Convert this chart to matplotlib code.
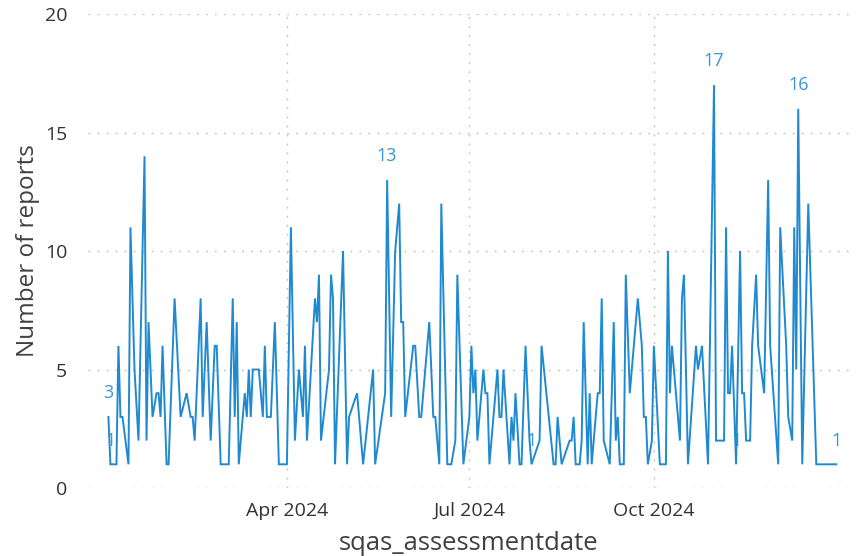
import pandas as pd
import matplotlib
matplotlib.use('Agg')
import matplotlib.pyplot as plt
import matplotlib.dates as mdates

# --- dados (dia do ano a partir de 01/01/2024, nº de relatórios) ---
dias = [2, 3, 6, 7, 8, 9, 12, 13, 15, 17, 20, 21, 22, 24, 26, 27, 28, 29, 31, 32,
        35, 38, 41, 43, 44, 45, 48, 49,
        51, 53, 55, 56, 58, 62, 64, 65, 66, 67, 70, 71, 72, 73, 74, 77, 79, 80, 81,
        83, 85, 87, 91, 93, 95, 97, 99, 100, 101,
        105, 106, 107, 108, 112, 113, 114, 115, 119, 121, 122, 126, 129, 134, 135,
        140, 141, 143, 145, 147, 148, 149, 150,
        154, 155, 157, 158, 162, 164, 165, 167, 168, 171, 173, 175, 176, 179, 182,
        183, 184, 185, 186, 189, 190, 191, 192, 196, 197, 198, 199, 202,
        203, 204, 205, 207, 208, 210, 212, 213, 217, 218, 224, 225, 226, 228, 232,
        233, 234, 235, 237, 238, 239, 241, 242, 243, 246, 247, 248, 249,
        252, 254, 255, 256, 257, 259, 260, 262, 266, 268, 269, 270, 271, 273, 274,
        277, 280, 281, 282, 283, 287, 288, 289, 291, 295, 296, 298, 301,
        304, 305, 309, 310, 311, 312, 313, 315, 317, 318, 319, 320, 322, 323, 325,
        326, 329, 331, 332, 336, 337, 340, 341, 343, 344, 345, 346, 348, 351, 355, 365]
relatorios = [3, 1, 1, 6, 3, 3, 1, 11, 5, 2, 14, 2, 7, 3, 4, 4, 3, 6, 1, 1,
              8, 3, 4, 3, 3, 2, 8, 3,
              7, 2, 6, 6, 1, 1, 8, 3, 7, 1, 4, 3, 5, 3, 5, 5, 3, 6, 3,
              3, 7, 1, 1, 11, 2, 5, 3, 6, 2,
              8, 7, 9, 2, 5, 9, 8, 1, 10, 1, 3, 4, 1, 5, 1,
              4, 13, 3, 10, 12, 7, 7, 3,
              6, 6, 3, 3, 7, 3, 3, 1, 12, 1, 1, 2, 9, 1, 3,
              6, 4, 5, 2, 5, 4, 4, 1, 5, 3, 3, 5, 1,
              3, 2, 4, 1, 1, 6, 2, 1, 2, 6, 1, 1, 3, 1, 2,
              2, 3, 1, 1, 2, 7, 1, 4, 1, 4, 4, 8, 2,
              1, 7, 2, 3, 1, 1, 9, 4, 8, 6, 3, 3, 1, 2, 6,
              1, 1, 10, 4, 6, 2, 8, 9, 1, 6, 5, 6, 1,
              17, 2, 2, 11, 4, 4, 6, 1, 10, 4, 4, 2, 2, 6, 9,
              6, 4, 13, 6, 1, 11, 6, 3, 2, 11, 5, 16, 1, 12, 1, 1]

# rótulos de dados mostrados no visual (dia do ano)
dias_rotulo = [2, 3, 141, 213, 304, 315, 346, 365]

ticks_x = ['2024-04-01', '2024-07-01', '2024-10-01']
ticks_y = [0, 5, 10, 15, 20]

AZUL = '#1f8ad0'
AZUL_TXT = '#3a96d6'
GRADE = '#c4c4c4'

plt.rcParams['font.family'] = ['Open Sans', 'DejaVu Sans']

inicio = pd.Timestamp('2024-01-01')
datas = inicio + pd.to_timedelta(dias, unit='D')
serie = pd.Series(relatorios, index=datas)

fig = plt.figure(figsize=(8.59, 5.56), dpi=100)
ax = fig.add_axes([0.1024, 0.1223, 0.8871, 0.8525])

ax.plot(serie.index, serie.values, color=AZUL, lw=1.4, solid_joinstyle='miter', zorder=3)

for d in dias_rotulo:
    dt = inicio + pd.Timedelta(days=d)
    v = serie.loc[dt]
    ax.annotate(f"{v}", (dt, v), xytext=(0, 17), textcoords='offset points',
                ha='center', va='center', fontsize=13, color=AZUL_TXT, zorder=2)

ax.set_xlim(inicio - pd.Timedelta(days=8.2), inicio + pd.Timedelta(days=371.8))
ax.set_ylim(0, 20)
ax.set_yticks(ticks_y)
ax.set_xticks(pd.to_datetime(ticks_x))
ax.xaxis.set_major_formatter(mdates.DateFormatter('%b %Y'))

for s in ax.spines.values():
    s.set_visible(False)
ax.tick_params(axis='both', length=0, labelsize=14, colors='#333333')
ax.tick_params(axis='y', pad=15)
ax.tick_params(axis='x', pad=10)

ax.grid(True, color=GRADE, lw=1.0, linestyle=(0, (1.4, 5.1)))
ax.set_axisbelow(True)

ax.set_xlabel('sqas_assessmentdate', fontsize=18.5, color='#404040', labelpad=8)
ax.set_ylabel('Number of reports', fontsize=17.5, color='#404040', labelpad=3)

plt.savefig('out.png', dpi=100)
plt.close()
